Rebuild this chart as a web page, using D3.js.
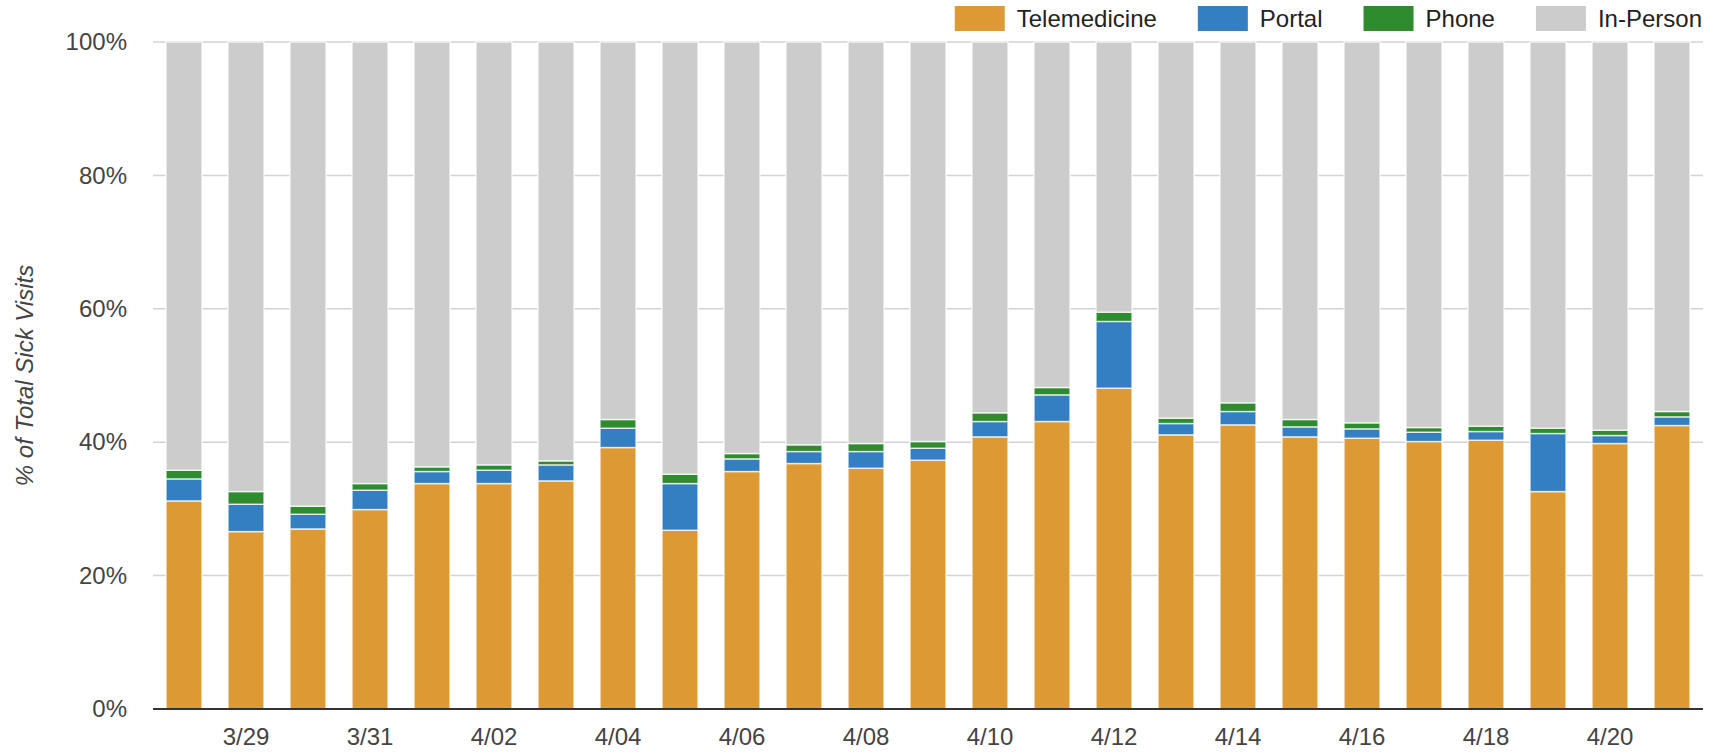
<!DOCTYPE html>
<html>
<head>
<meta charset="utf-8">
<script src="https://cdn.jsdelivr.net/npm/d3@7/dist/d3.min.js"></script>
<style>
  html, body { margin: 0; padding: 0; background: #fff; }
  svg { display: block; font-family: "Liberation Sans", Arial, sans-serif; }
</style>
</head>
<body>
<svg id="chart" width="1713" height="754"></svg>
<script>
// ---- Data (percent of total sick visits) ----
const dates = ["3/28","3/29","3/30","3/31","4/01","4/02","4/03","4/04","4/05","4/06","4/07","4/08","4/09",
               "4/10","4/11","4/12","4/13","4/14","4/15","4/16","4/17","4/18","4/19","4/20","4/21"];
const telemedicine = [31.2, 26.6, 27.0, 29.9, 33.8, 33.8, 34.2, 39.2, 26.8, 35.6, 36.8, 36.1, 37.3,
                      40.8, 43.1, 48.1, 41.1, 42.6, 40.8, 40.6, 40.1, 40.3, 32.6, 39.8, 42.5];
const portal       = [3.3, 4.1, 2.2, 2.9, 1.8, 2.0, 2.4, 2.9, 7.0, 1.9, 1.8, 2.5, 1.8,
                      2.3, 4.0, 10.0, 1.7, 2.0, 1.5, 1.4, 1.4, 1.3, 8.7, 1.2, 1.3];
const phone        = [1.3, 1.9, 1.2, 1.0, 0.7, 0.8, 0.6, 1.3, 1.4, 0.8, 1.0, 1.2, 1.0,
                      1.3, 1.1, 1.4, 0.8, 1.3, 1.1, 0.9, 0.7, 0.8, 0.8, 0.8, 0.8];
const inPerson     = [64.2, 67.4, 69.6, 66.2, 63.7, 63.4, 62.8, 56.6, 64.8, 61.7, 60.4, 60.2, 59.9,
                      55.6, 51.8, 40.5, 56.4, 54.1, 56.6, 57.1, 57.8, 57.6, 57.9, 58.2, 55.4];
const seriesNames  = ["Telemedicine", "Portal", "Phone", "In-Person"];
const seriesColors = ["#dd9933", "#337fc1", "#2e8b2e", "#cccccc"];
const yTicks       = [0, 20, 40, 60, 80, 100];
const xTickLabels  = ["3/29","3/31","4/02","4/04","4/06","4/08","4/10","4/12","4/14","4/16","4/18","4/20"];

(function () {
// ---- Layout ----
const svg = d3.select("#chart");
const mLeft = 153, mRight = 1703, mTop = 42, mBottom = 709;

const rows = dates.map((d, i) => ({
  date: d,
  "Telemedicine": telemedicine[i],
  "Portal": portal[i],
  "Phone": phone[i],
  "In-Person": inPerson[i]
}));

const x = d3.scaleBand().domain(dates).range([mLeft, mRight]).paddingInner(0.42).paddingOuter(0.21);
const y = d3.scaleLinear().domain([0, 100]).range([mBottom, mTop]);
const color = d3.scaleOrdinal().domain(seriesNames).range(seriesColors);

// Gridlines
svg.append("g")
  .selectAll("line")
  .data(yTicks.filter(t => t > 0))
  .join("line")
  .attr("x1", mLeft).attr("x2", mRight)
  .attr("y1", d => y(d)).attr("y2", d => y(d))
  .attr("stroke", "#d3d3d3").attr("stroke-width", 1.5);

// Stacked bars
const stack = d3.stack().keys(seriesNames)(rows);
svg.append("g")
  .selectAll("g")
  .data(stack)
  .join("g")
  .attr("fill", d => color(d.key))
  .selectAll("rect")
  .data(d => d)
  .join("rect")
  .attr("x", d => x(d.data.date))
  .attr("width", x.bandwidth())
  .attr("y", d => y(d[1]))
  .attr("height", d => y(d[0]) - y(d[1]))
  .attr("stroke", "#ffffff")
  .attr("stroke-opacity", 0.75)
  .attr("stroke-width", 1.4);

// Baseline
svg.append("line")
  .attr("x1", mLeft).attr("x2", mRight)
  .attr("y1", y(0)).attr("y2", y(0))
  .attr("stroke", "#333").attr("stroke-width", 2);

// Y axis labels
const yAxis = d3.axisLeft(y).tickValues(yTicks).tickSize(0).tickPadding(0).tickFormat(d => d + "%");
const yg = svg.append("g").attr("transform", `translate(${127},0)`).call(yAxis);
yg.select(".domain").remove();
yg.selectAll("text").attr("font-size", 24).attr("fill", "#444").attr("font-family", "Liberation Sans, Arial, sans-serif");

// X axis labels
const xAxis = d3.axisBottom(x).tickValues(xTickLabels).tickSize(0).tickPadding(0);
const xg = svg.append("g").attr("transform", `translate(0,${y(0)})`).call(xAxis);
xg.select(".domain").remove();
xg.selectAll("text").attr("font-size", 24).attr("fill", "#444")
  .attr("font-family", "Liberation Sans, Arial, sans-serif")
  .attr("dy", null).attr("y", 36);

// Y axis title
svg.append("text")
  .attr("transform", `translate(24,${(mTop + mBottom) / 2}) rotate(-90)`)
  .attr("text-anchor", "middle")
  .attr("dominant-baseline", "central")
  .attr("font-size", 24)
  .attr("font-style", "italic")
  .attr("fill", "#444")
  .text("% of Total Sick Visits");

// Legend (right aligned to plot edge)
const legend = svg.append("g");
const items = legend.selectAll("g").data(seriesNames).join("g");
items.append("rect").attr("width", 50).attr("height", 25).attr("y", 6)
  .attr("fill", d => color(d));
items.append("text").attr("x", 62).attr("y", 27).attr("font-size", 24).attr("fill", "#222")
  .text(d => d);
const widths = [];
items.each(function () { widths.push(62 + d3.select(this).select("text").node().getComputedTextLength()); });
const gap = 41;
const total = d3.sum(widths) + gap * (widths.length - 1);
let cx = 1702 - total;
items.each(function (d, i) {
  d3.select(this).attr("transform", `translate(${cx},0)`);
  cx += widths[i] + gap;
});
})();
</script>
</body>
</html>
